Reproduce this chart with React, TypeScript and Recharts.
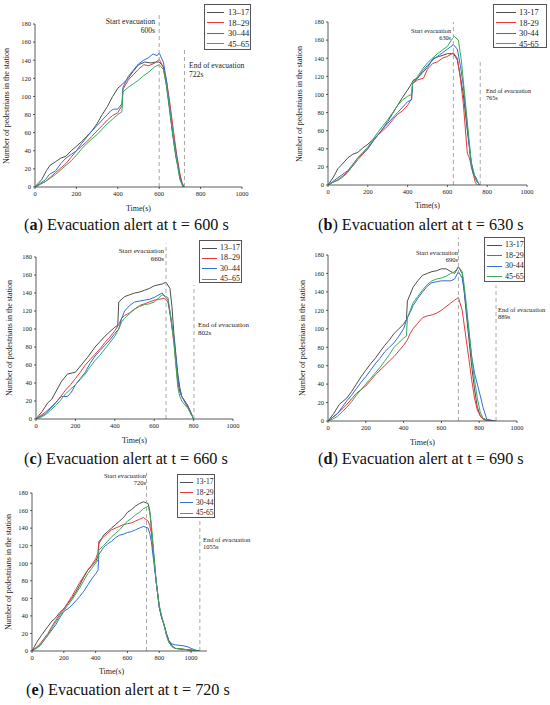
import React from 'react';
import { LineChart, Line, XAxis, YAxis, ReferenceLine } from 'recharts';

// ---------- Data: [time(s), pedestrians] ----------
// (a) alert at 600 s
const a1317 = [[0,0],[15,4],[32,8],[55,18],[73,24],[100,28],[125,32],[150,34],[175,40],[200,45],[225,50],[250,56],[275,62],[300,70],[325,80],[350,89],[375,100],[400,109],[420,113],[450,120],[475,128],[500,135],[530,138],[560,137],[585,138],[600,138],[620,133],[635,112],[650,85],[665,58],[680,34],[700,12],[710,4],[722,0]];
const a1829 = [[0,0],[25,3],[50,6],[75,11],[100,16],[125,21],[150,26],[175,33],[200,40],[225,45],[250,50],[275,56],[300,62],[325,68],[350,74],[375,79],[400,82],[420,90],[425,108],[450,118],[475,124],[500,130],[525,135],[550,134],[580,137],[600,141],[620,132],[635,118],[650,95],[660,78],[670,60],[685,35],[700,15],[710,5],[720,0]];
const a3044 = [[0,0],[25,4],[50,8],[70,14],[100,18],[125,26],[150,32],[175,36],[200,40],[225,48],[250,55],[275,62],[300,68],[325,74],[350,80],[365,84],[380,86],[400,86],[420,92],[425,110],[450,122],[475,129],[500,136],[525,140],[550,143],[570,147],[590,145],[600,148],[620,138],[635,118],[650,90],[665,62],[680,40],[700,10],[715,0]];
const a4565 = [[0,0],[25,3],[50,6],[75,10],[100,14],[125,19],[150,24],[175,29],[200,35],[225,42],[250,48],[275,53],[300,58],[325,64],[350,70],[375,75],[400,80],[420,83],[425,105],[450,110],[475,114],[500,118],[525,123],[550,127],[580,133],[600,135],[620,130],[635,112],[650,88],[665,60],[680,35],[700,8],[715,0]];

// (b) alert at 630 s
const b1317 = [[0,0],[25,8],[50,18],[67,22],[100,30],[125,34],[150,36],[175,41],[200,45],[225,50],[250,55],[275,62],[300,70],[325,79],[350,88],[375,97],[400,105],[420,112],[430,116],[450,118],[475,124],[500,130],[530,140],[560,142],[600,145],[630,145],[650,138],[665,120],[680,100],[700,60],[720,25],[735,10],[750,3],[765,0]];
const b1829 = [[0,0],[25,3],[50,6],[75,10],[100,15],[125,21],[150,28],[175,34],[200,40],[225,48],[250,55],[275,60],[300,65],[325,72],[350,78],[375,82],[400,88],[420,95],[425,112],[450,116],[480,118],[500,128],[525,134],[550,136],[575,140],[600,142],[630,146],[650,140],[665,118],[680,90],[700,35],[710,30],[720,22],[740,3],[750,0]];
const b3044 = [[0,0],[25,4],[50,8],[75,12],[100,16],[125,23],[150,30],[175,35],[200,40],[225,48],[250,55],[275,62],[300,68],[325,74],[350,80],[375,86],[400,92],[420,94],[425,112],[450,118],[475,126],[500,132],[525,138],[550,142],[575,146],[600,150],[630,155],[650,150],[665,132],[680,110],[700,65],[720,20],[730,12],[740,10],[760,0]];
const b4565 = [[0,0],[25,3],[50,5],[75,9],[100,14],[125,22],[150,30],[175,36],[200,42],[225,50],[250,58],[275,65],[300,72],[325,80],[350,88],[375,94],[400,98],[420,100],[425,112],[450,120],[475,128],[500,135],[525,140],[550,145],[575,149],[600,153],[620,160],[635,164],[655,160],[670,138],[680,115],[700,70],[720,25],[740,8],[760,0]];

// (c) alert at 660 s
const c1317 = [[0,0],[30,8],[60,18],[80,22],[100,30],[130,42],[160,50],[200,52],[230,60],[260,68],[300,80],[325,86],[350,92],[375,97],[400,102],[415,104],[420,130],[450,136],[475,138],[500,140],[525,141],[550,143],[575,145],[600,148],[640,150],[660,152],[680,145],[690,125],[700,95],[710,72],[720,50],[730,35],[740,25],[760,17],[780,10],[800,0]];
const c1829 = [[0,0],[25,4],[50,8],[75,13],[100,18],[125,25],[150,32],[175,38],[200,45],[225,52],[250,60],[275,66],[300,72],[325,78],[350,85],[375,91],[400,98],[420,105],[435,112],[450,115],[475,118],[500,122],[525,126],[550,128],[575,130],[600,132],[625,133],[650,134],[670,130],[685,110],[700,85],[710,62],[720,40],[730,30],[740,25],[770,15],[800,0]];
const c3044 = [[0,0],[25,3],[50,6],[75,12],[100,18],[115,22],[130,25],[160,25],[180,30],[200,38],[225,45],[250,52],[275,62],[300,70],[325,76],[350,82],[375,88],[400,95],[420,100],[435,112],[450,120],[475,126],[500,130],[525,131],[550,132],[575,133],[600,135],[640,140],[670,132],[685,112],[700,90],[710,68],[720,45],[730,32],[740,25],[770,15],[800,0]];
const c4565 = [[0,0],[25,2],[50,5],[75,10],[100,15],[125,21],[150,28],[175,33],[200,38],[225,44],[250,50],[275,58],[300,65],[325,71],[350,78],[375,85],[400,92],[420,100],[435,108],[450,112],[475,117],[500,122],[525,125],[550,127],[575,128],[600,130],[640,138],[670,135],[685,112],[700,85],[710,60],[720,35],[730,25],[740,20],[770,12],[800,0]];

// (d) alert at 690 s
const d1317 = [[0,0],[30,8],[60,18],[100,25],[125,32],[150,40],[175,48],[200,55],[225,62],[250,68],[275,75],[300,82],[325,88],[350,95],[375,100],[400,105],[415,110],[420,130],[450,145],[475,152],[500,158],[525,160],[550,162],[575,163],[600,165],[625,165],[650,162],[670,160],[690,167],[710,160],[720,142],[730,120],[745,90],[760,60],[775,35],[790,15],[805,6],[820,2],[850,1],[889,0]];
const d1829 = [[0,0],[25,4],[50,8],[75,13],[100,18],[125,24],[150,30],[175,34],[200,38],[225,44],[250,50],[275,55],[300,60],[325,65],[350,70],[375,76],[400,82],[420,88],[435,95],[450,100],[475,106],[500,112],[525,114],[550,115],[575,117],[600,120],[625,124],[650,128],[670,131],[690,134],[710,120],[730,90],[745,68],[760,45],[775,25],[790,12],[810,4],[830,1],[870,0]];
const d3044 = [[0,0],[25,4],[50,8],[75,15],[100,22],[125,28],[150,35],[175,42],[200,48],[225,55],[250,62],[275,68],[300,75],[325,80],[350,85],[375,92],[400,100],[420,112],[435,118],[450,125],[475,133],[500,140],[525,146],[550,150],[575,151],[600,152],[625,152],[650,152],[670,154],[690,162],[710,155],[720,142],[730,125],[745,98],[760,70],[775,52],[790,40],[805,28],[820,15],[840,2],[880,0]];
const d4565 = [[0,0],[25,2],[50,5],[75,10],[100,15],[125,21],[150,28],[175,34],[200,40],[225,46],[250,52],[275,58],[300,65],[325,72],[350,80],[375,85],[400,90],[415,92],[420,112],[435,120],[450,128],[475,135],[500,142],[525,148],[550,152],[575,154],[600,155],[625,157],[650,160],[670,162],[690,167],[710,162],[720,148],[730,130],[745,100],[760,70],[775,45],[790,25],[805,10],[820,3],[860,0]];

// (e) alert at 720 s
const e1317 = [[0,0],[15,5],[30,10],[60,18],[100,28],[125,34],[150,38],[175,44],[200,48],[225,54],[250,60],[275,67],[300,75],[325,84],[350,92],[375,97],[400,102],[415,108],[420,122],[450,132],[475,136],[500,140],[525,144],[550,148],[575,152],[600,158],[625,161],[650,165],[675,168],[700,170],[730,168],[740,160],[750,140],[765,110],[780,80],[800,50],[815,38],[830,30],[845,20],[860,12],[880,6],[900,3],[950,2],[1000,1],[1055,0]];
const e1829 = [[0,0],[25,4],[50,8],[75,14],[100,20],[125,28],[150,35],[175,42],[200,48],[225,55],[250,62],[275,70],[300,78],[325,85],[350,92],[375,98],[400,105],[415,112],[420,125],[450,130],[475,134],[500,138],[525,140],[550,142],[575,144],[600,145],[625,146],[650,148],[675,150],[700,152],[730,148],[740,143],[750,135],[765,108],[780,80],[800,50],[815,38],[830,30],[845,18],[860,10],[880,5],[900,3],[950,2],[1000,1],[1050,0]];
const e3044 = [[0,0],[25,3],[50,6],[75,12],[100,18],[125,24],[150,30],[175,38],[200,45],[225,48],[250,52],[275,57],[300,62],[325,68],[350,75],[375,82],[400,88],[415,92],[420,110],[450,118],[475,122],[500,125],[525,129],[550,132],[575,133],[600,135],[625,136],[650,138],[675,140],[700,142],[730,140],[740,134],[750,125],[765,102],[780,80],[800,50],[815,38],[830,30],[845,20],[860,12],[880,8],[900,7],[950,6],[975,5],[1000,3],[1030,1],[1050,0]];
const e4565 = [[0,0],[25,3],[50,6],[75,12],[100,18],[125,26],[150,33],[175,40],[200,46],[225,52],[250,58],[275,65],[300,72],[325,80],[350,88],[375,94],[400,100],[415,104],[420,115],[450,120],[475,125],[500,130],[525,134],[550,138],[575,143],[600,148],[625,151],[650,155],[675,158],[700,162],[730,165],[740,158],[750,145],[765,112],[780,80],[800,52],[815,40],[830,30],[845,18],[860,10],[880,5],[900,3],[950,2],[1000,1],[1050,0]];

const xTicks = [0, 200, 400, 600, 800, 1000];
const yTicks = [0, 20, 40, 60, 80, 100, 120, 140, 160, 180];
const dashLabels = ['13–17', '18–29', '30–44', '45–65'];
const hyphenLabels = ['13-17', '18-29', '30-44', '45-65'];

const COLORS = ['#4d4d4d', '#e8383d', '#2f6fd6', '#3aaa5a'];
const SERIF = '"Liberation Serif", "Times New Roman", serif';

const toRows = (arr: number[][]) => arr.map(([t, v]) => ({ t, v }));

type PanelProps = {
  series: number[][][];
  labels: string[];
  plotLeft: number; plotTop: number; plotW: number; plotH: number;
  xMax: number;
  start: number; startTop: number; end: number; endTop: number;
  startLabel: { x: number; y: number; fs: number; t: string };
  endLabel: { x: number; y: number; fs: number; t: string };
  legend: { x: number; y: number; w: number; h: number; fs: number; lineW: number; rowH: number; gap: number };
  yLabelX: number;
  timeY: number;
  caption: { x: number; y: number; letter: string; t: number };
  tickFs: number;
};

const M = { top: 30, right: 12, left: 0, bottom: 0 };
const YW = 30;
const XH = 18;

function Panel(p: PanelProps) {
  const W = p.plotW + YW + M.left + M.right;
  const H = p.plotH + M.top + XH + M.bottom;
  const chartLeft = p.plotLeft - YW - M.left;
  const chartTop = p.plotTop - M.top;
  const tickStyle = { fontFamily: SERIF, fontSize: p.tickFs, fill: '#222' };
  return (
    <>
      <div style={{ position: 'absolute', left: chartLeft, top: chartTop }}>
        <LineChart width={W} height={H} margin={M} style={{ overflow: 'visible' }}>
          <XAxis
            type="number" dataKey="t" domain={[0, p.xMax]} ticks={xTicks}
            allowDuplicatedCategory={false}
            height={XH} tick={tickStyle} tickSize={2} tickMargin={2}
            stroke="#333" strokeWidth={0.8} interval={0}
          />
          <YAxis
            type="number" domain={[0, 180]} ticks={yTicks} width={YW}
            tick={tickStyle} tickSize={2} tickMargin={2} stroke="#333" strokeWidth={0.8}
            interval={0} allowDataOverflow
          />
          {p.series.map((s, i) => (
            <Line key={i} data={toRows(s)} dataKey="v" type="linear" stroke={COLORS[i]}
              strokeWidth={1} dot={false} isAnimationActive={false} />
          ))}
          <ReferenceLine segment={[{ x: p.start, y: 0 }, { x: p.start, y: p.startTop }]}
            stroke="#a8a8a8" strokeDasharray="4 3" strokeWidth={1} ifOverflow="visible" />
          <ReferenceLine segment={[{ x: p.end, y: 0 }, { x: p.end, y: p.endTop }]}
            stroke="#a8a8a8" strokeDasharray="4 3" strokeWidth={1} ifOverflow="visible" />
        </LineChart>
      </div>
      {/* start label */}
      <div style={{ position: 'absolute', left: p.startLabel.x - 100, width: 100, top: p.startLabel.y,
        fontFamily: SERIF, fontSize: p.startLabel.fs, lineHeight: 1.15, textAlign: 'right', color: '#222' }}>
        Start evacuation<br />{p.startLabel.t}
      </div>
      <div style={{ position: 'absolute', left: p.endLabel.x, top: p.endLabel.y,
        fontFamily: SERIF, fontSize: p.endLabel.fs, lineHeight: 1.15, color: '#222', whiteSpace: 'nowrap' }}>
        End of evacuation<br />{p.endLabel.t}
      </div>
      {/* legend */}
      <div style={{ position: 'absolute', left: p.legend.x, top: p.legend.y, width: p.legend.w, height: p.legend.h,
        border: '0.8px solid #555', background: '#fff', boxSizing: 'border-box', paddingTop: 2 }}>
        {p.labels.map((l, i) => (
          <div key={l} style={{ display: 'flex', alignItems: 'center', height: p.legend.rowH, whiteSpace: 'nowrap' }}>
            <div style={{ flex: '0 0 auto', width: p.legend.lineW, height: 0, borderTop: `1.4px solid ${COLORS[i]}`, marginLeft: 2, marginRight: p.legend.gap }} />
            <span style={{ flex: '0 0 auto', fontFamily: SERIF, fontSize: p.legend.fs, color: '#222', lineHeight: 1 }}>{l}</span>
          </div>
        ))}
      </div>
      {/* y label */}
      <div style={{ position: 'absolute', left: p.yLabelX - 100, top: p.plotTop + p.plotH / 2 - 5, width: 200,
        textAlign: 'center', transform: 'rotate(-90deg)', fontFamily: SERIF, fontSize: 8, color: '#222', lineHeight: '10px' }}>
        Number of pedestrians in the station
      </div>
      {/* x label */}
      <div style={{ position: 'absolute', left: p.plotLeft, width: (1000 / p.xMax) * p.plotW, top: p.timeY - 5,
        textAlign: 'center', fontFamily: SERIF, fontSize: 8, color: '#222', lineHeight: '10px' }}>
        Time(s)
      </div>
      {/* caption */}
      <div style={{ position: 'absolute', left: p.caption.x, top: p.caption.y - 8, fontFamily: SERIF,
        fontSize: 16.2, color: '#111', whiteSpace: 'nowrap', lineHeight: '16px' }}>
        (<b>{p.caption.letter}</b>) Evacuation alert at t = {p.caption.t} s
      </div>
    </>
  );
}

export default function App() {
  return (
    <div style={{ position: 'absolute', left: 0, top: 0, width: 550, height: 705, background: '#fff', overflow: 'hidden' }}>
      <Panel series={[a1317, a1829, a3044, a4565]} labels={dashLabels}
        plotLeft={35} plotTop={24} plotW={207} plotH={163} xMax={1000}
        start={600} startTop={192} end={722} endTop={154}
        startLabel={{ x: 155, y: 18, fs: 7.6, t: '600s' }}
        endLabel={{ x: 189, y: 62, fs: 7.6, t: '722s' }}
        legend={{ x: 204, y: 4, w: 47, h: 46, fs: 8.5, lineW: 17, rowH: 10.5, gap: 4 }}
        yLabelX={7} timeY={209} caption={{ x: 24, y: 225, letter: 'a', t: 600 }} tickFs={6.5} />
      <Panel series={[b1317, b1829, b3044, b4565]} labels={hyphenLabels}
        plotLeft={328} plotTop={22} plotW={199} plotH={163} xMax={1000}
        start={630} startTop={180} end={765} endTop={139}
        startLabel={{ x: 451, y: 27, fs: 6.2, t: '630s' }}
        endLabel={{ x: 486, y: 87, fs: 6.2, t: '765s' }}
        legend={{ x: 493, y: 4, w: 54, h: 44, fs: 8.5, lineW: 20, rowH: 10.5, gap: 3 }}
        yLabelX={300} timeY={206} caption={{ x: 318, y: 225, letter: 'b', t: 630 }} tickFs={6.5} />
      <Panel series={[c1317, c1829, c3044, c4565]} labels={dashLabels}
        plotLeft={36} plotTop={257} plotW={197} plotH={162} xMax={1000}
        start={660} startTop={195} end={802} endTop={149}
        startLabel={{ x: 164, y: 247, fs: 7, t: '660s' }}
        endLabel={{ x: 198, y: 321, fs: 7, t: '802s' }}
        legend={{ x: 199, y: 240, w: 43, h: 43, fs: 8, lineW: 15, rowH: 10.3, gap: 3 }}
        yLabelX={10} timeY={441} caption={{ x: 24, y: 459, letter: 'c', t: 660 }} tickFs={6.5} />
      <Panel series={[d1317, d1829, d3044, d4565]} labels={hyphenLabels}
        plotLeft={328} plotTop={255} plotW={189} plotH={166} xMax={1000}
        start={690} startTop={199} end={889} endTop={147}
        startLabel={{ x: 458, y: 249, fs: 6.5, t: '690s' }}
        endLabel={{ x: 498, y: 306, fs: 6.5, t: '889s' }}
        legend={{ x: 484, y: 237, w: 41, h: 45, fs: 8, lineW: 15, rowH: 10.5, gap: 3 }}
        yLabelX={303} timeY={443} caption={{ x: 318, y: 459, letter: 'd', t: 690 }} tickFs={6.5} />
      <Panel series={[e1317, e1829, e3044, e4565]} labels={hyphenLabels}
        plotLeft={32} plotTop={493} plotW={175} plotH={158} xMax={1100}
        start={720} startTop={203} end={1055} endTop={155}
        startLabel={{ x: 146, y: 472, fs: 6.5, t: '720s' }}
        endLabel={{ x: 203, y: 536, fs: 6.5, t: '1055s' }}
        legend={{ x: 177, y: 474, w: 38, h: 44, fs: 7.5, lineW: 13, rowH: 10.3, gap: 3 }}
        yLabelX={9} timeY={672} caption={{ x: 26, y: 690, letter: 'e', t: 720 }} tickFs={6.5} />
    </div>
  );
}
